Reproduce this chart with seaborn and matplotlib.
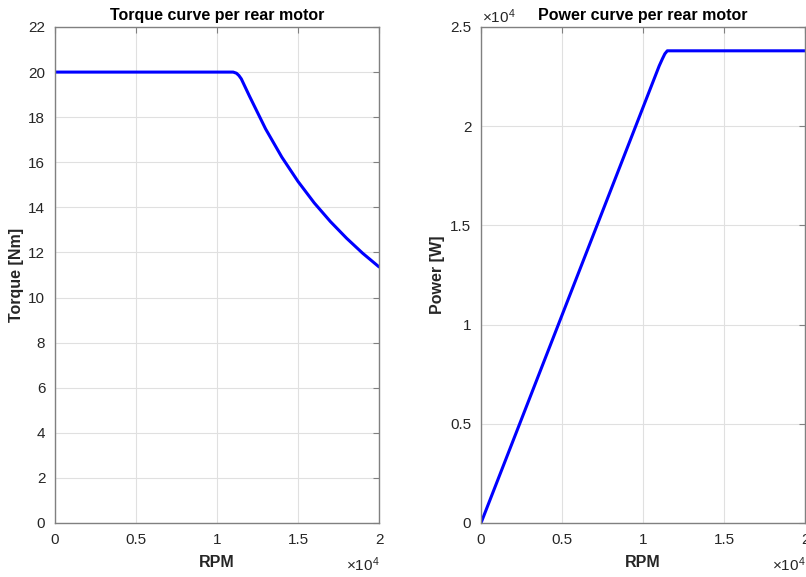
import numpy as np
import pandas as pd
import matplotlib
matplotlib.use("Agg")
import matplotlib.pyplot as plt
import seaborn as sns

# Data
rpm = [0, 11000, 11200, 11350, 11500, 12000, 13000, 14000, 15000, 16000, 17000, 18000, 19000, 20000]
torque = [20.0, 20.0, 19.95, 19.85, 19.7, 18.94, 17.48, 16.23, 15.15, 14.2, 13.37, 12.63, 11.96, 11.36]
power = [0, 23040, 23400, 23650, 23800, 23800, 23800, 23800, 23800, 23800, 23800, 23800, 23800, 23800]

x_ticks = [0, 5000, 10000, 15000, 20000]
x_tick_labels = ["0", "0.5", "1", "1.5", "2"]
t_ticks = list(range(0, 23, 2))
p_ticks = [0, 5000, 10000, 15000, 20000, 25000]
p_tick_labels = ["0", "0.5", "1", "1.5", "2", "2.5"]

df = pd.DataFrame({"rpm": rpm, "torque": torque, "power": power})

sns.set_style("white")
plt.rcParams["font.family"] = ["Liberation Sans", "DejaVu Sans"]
plt.rcParams["mathtext.fontset"] = "custom"
plt.rcParams["mathtext.rm"] = "Liberation Sans"
plt.rcParams["mathtext.it"] = "Liberation Sans"

fig = plt.figure(figsize=(8.06, 5.77), dpi=100)
ax1 = fig.add_axes([55/806, 1-523/577, 324/806, 496/577])
ax2 = fig.add_axes([481/806, 1-523/577, 324/806, 496/577])

tc = "#262626"
for ax in (ax1, ax2):
    ax.grid(True, color="#e0e0e0", linewidth=0.8)
    ax.set_axisbelow(True)
    for s in ax.spines.values():
        s.set_color("#808080")
        s.set_linewidth(1.0)
    ax.tick_params(direction="in", length=4, top=True, right=True, labelsize=11,
                   colors="#808080", labelcolor=tc, pad=7)
    ax.set_xlim(0, 20000)
    ax.set_xticks(x_ticks)
    ax.set_xticklabels(x_tick_labels)
    ax.set_xlabel("RPM", fontsize=11.5, fontweight="bold", color=tc, labelpad=6)
    ax.text(1.003, -0.065, r"$\times 10^{4}$", transform=ax.transAxes, ha="right", va="top",
            fontsize=11, color=tc)

sns.lineplot(data=df, x="rpm", y="torque", ax=ax1, color=(0, 0, 1), linewidth=2.2)
ax1.set_ylim(0, 22)
ax1.set_yticks(t_ticks)
ax1.set_ylabel("Torque [Nm]", fontsize=11.5, fontweight="bold", color=tc, labelpad=3)
ax1.set_title("Torque curve per rear motor", fontsize=11.5, fontweight="bold", color="black", pad=5)

sns.lineplot(data=df, x="rpm", y="power", ax=ax2, color=(0, 0, 1), linewidth=2.2)
ax2.set_ylim(0, 25000)
ax2.set_yticks(p_ticks)
ax2.set_yticklabels(p_tick_labels)
ax2.set_ylabel("Power [W]", fontsize=11.5, fontweight="bold", color=tc, labelpad=4)
ax2.set_title("Power curve per rear motor", fontsize=11.5, fontweight="bold", color="black", pad=5)
ax2.text(0.003, 1.003, r"$\times 10^{4}$", transform=ax2.transAxes, ha="left", va="bottom",
         fontsize=11, color=tc)

fig.savefig("out.png", dpi=100)
